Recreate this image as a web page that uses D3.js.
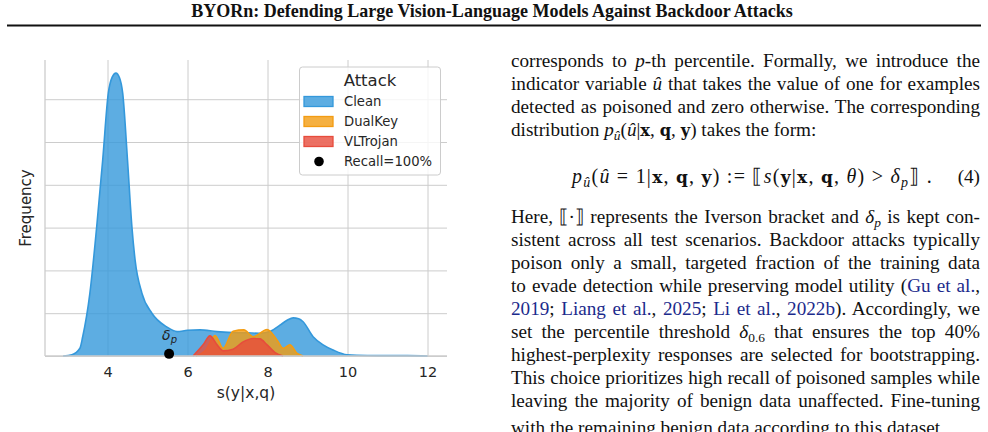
<!DOCTYPE html>
<html><head><meta charset="utf-8">
<script src="https://cdn.jsdelivr.net/npm/d3@7"></script>
<style>body{margin:0;background:#fff}svg{display:block}</style>
</head><body>
<svg id="c" width="988" height="432"></svg>
<script>
// ---------------- data ----------------
const cleanX = [2.89,3.11,3.31,3.38,3.56,3.73,3.88,4.02,4.12,4.21,4.30,4.38,4.50,4.61,4.69,4.86,5.11,5.48,5.74,6.00,6.31,6.74,7.14,7.50,7.81,8.06,8.31,8.50,8.64,8.78,8.89,9.14,9.39,9.64,9.99,10.5,11.0,11.5,12.0];
const cleanY = [0,0.003,0.018,0.045,0.147,0.302,0.458,0.614,0.652,0.661,0.650,0.614,0.458,0.302,0.224,0.147,0.100,0.068,0.057,0.060,0.061,0.057,0.055,0.054,0.053,0.057,0.072,0.084,0.089,0.087,0.080,0.045,0.026,0.014,0.003,0.001,0.0008,0.0008,0];
const dualX = [6.21,6.44,6.69,6.89,7.14,7.41,7.64,7.99,8.24,8.39,8.56,8.74,8.89];
const dualY = [0,0.012,0.048,0.018,0.058,0.061,0.045,0.062,0.037,0.018,0.026,0.006,0];
const trojX = [6.14,6.39,6.56,6.74,6.89,7.14,7.39,7.64,7.81,7.99,8.19,8.39];
const trojY = [0,0.026,0.047,0.026,0.012,0.016,0.033,0.041,0.040,0.026,0.008,0];
const seriesNames = ["Clean","DualKey","VLTrojan"];
const seriesColors = ["#3498db","#f39c12","#e74c3c"];
const recallX = [5.54];
const recallY = [0.005];
const xTicks = [4,6,8,10,12];
const yGrid = [0,0.1,0.2,0.3,0.4,0.5,0.6];

const svg = d3.select("#c");

// ---------------- page header ----------------
const title = svg.append("text").attr("x",492).attr("y",17).attr("text-anchor","middle")
  .attr("font-family","Liberation Serif, Times New Roman, serif").attr("font-weight","bold")
  .attr("font-size",16).attr("fill","#111")
  .text("BYORn: Defending Large Vision-Language Models Against Backdoor Attacks");
{ const w = title.node().getComputedTextLength(); title.attr("font-size", 16*602/w); }
svg.append("line").attr("x1",7).attr("x2",981).attr("y1",25.5).attr("y2",25.5)
  .attr("stroke","#111").attr("stroke-width",2.2);

// ---------------- chart ----------------
const L=45,R=447,T=60,B=356;
const x = d3.scaleLinear().domain([2.4375,12.4875]).range([L,R]);
const y = d3.scaleLinear().domain([0,0.6916]).range([B,T]);
const g = svg.append("g").attr("font-family","DejaVu Sans, sans-serif");

g.append("g").attr("transform",`translate(0,${B})`)
  .call(d3.axisBottom(x).tickValues(xTicks).tickSize(-(B-T)).tickFormat(""))
  .call(a=>a.select(".domain").remove())
  .call(a=>a.selectAll("line").attr("stroke","#cccccc").attr("stroke-width",1));
g.append("g").attr("transform",`translate(${L},0)`)
  .call(d3.axisLeft(y).tickValues(yGrid).tickSize(-(R-L)).tickFormat(""))
  .call(a=>a.select(".domain").remove())
  .call(a=>a.selectAll("line").attr("stroke","#cccccc").attr("stroke-width",1));

const series = [[cleanX,cleanY],[dualX,dualY],[trojX,trojY]];
const area = d3.area().x(d=>x(d[0])).y0(y(0)).y1(d=>y(d[1])).curve(d3.curveMonotoneX);
const line = d3.line().x(d=>x(d[0])).y(d=>y(d[1])).curve(d3.curveMonotoneX);
series.forEach(([xs,ys],i)=>{
  const pts = xs.map((v,j)=>[v,ys[j]]);
  g.append("path").datum(pts).attr("d",area).attr("fill",seriesColors[i]).attr("fill-opacity",0.8);
  g.append("path").datum(pts).attr("d",line).attr("fill","none").attr("stroke",seriesColors[i]).attr("stroke-width",1.6);
});

g.append("line").attr("x1",L).attr("x2",L).attr("y1",T).attr("y2",B).attr("stroke","#cccccc").attr("stroke-width",1.3);
g.append("line").attr("x1",L).attr("x2",R).attr("y1",B).attr("y2",B).attr("stroke","#cccccc").attr("stroke-width",1.3);

g.selectAll(".rp").data(recallX).join("circle").attr("cx",d=>x(d)).attr("cy",(d,i)=>y(recallY[i])).attr("r",5).attr("fill","#000");
const dl = g.append("text").attr("x",x(recallX[0])-7).attr("y",y(recallY[0])-14)
  .attr("font-size",14).attr("font-style","italic").attr("fill","#222");
dl.append("tspan").text("δ");
dl.append("tspan").attr("font-size",10).attr("dy",3).text("p");

g.append("g").attr("transform",`translate(0,${B})`)
  .call(d3.axisBottom(x).tickValues(xTicks).tickSize(0).tickPadding(11))
  .call(a=>a.select(".domain").remove())
  .call(a=>a.selectAll("text").attr("font-size",14.5).attr("fill","#262626").attr("font-family","DejaVu Sans, sans-serif"));
g.append("text").attr("x",(L+R)/2).attr("y",398).attr("text-anchor","middle").attr("font-size",15.5).attr("fill","#262626").text("s(y|x,q)");
g.append("text").attr("transform",`translate(31,${(T+B)/2}) rotate(-90)`).attr("text-anchor","middle").attr("font-size",15).attr("fill","#262626").text("Frequency");

const lg = g.append("g");
lg.append("rect").attr("x",299.5).attr("y",67).attr("width",141).attr("height",108).attr("rx",3)
  .attr("fill","#fff").attr("fill-opacity",0.8).attr("stroke","#cccccc").attr("stroke-width",1);
lg.append("text").attr("x",370).attr("y",86).attr("text-anchor","middle").attr("font-size",16.5).attr("fill","#262626").text("Attack");
seriesNames.forEach((n,i)=>{
  const cy = 101.5 + i*20;
  lg.append("rect").attr("x",304).attr("y",cy-5).attr("width",29).attr("height",10)
    .attr("fill",seriesColors[i]).attr("fill-opacity",0.8).attr("stroke",seriesColors[i]).attr("stroke-width",1.3);
  lg.append("text").attr("x",344).attr("y",cy).attr("dy","0.36em").attr("font-size",13.2).attr("fill","#262626").text(n);
});
lg.append("circle").attr("cx",319).attr("cy",161.5).attr("r",4.8).attr("fill","#000");
lg.append("text").attr("x",344).attr("y",161.5).attr("dy","0.36em").attr("font-size",13.2).attr("fill","#262626").text("Recall=100%");

// ---------------- right column text ----------------
const TX0=511, TX1=980;
const serif = "Liberation Serif, Times New Roman, serif";
const blue = "#1b2a8c";
const lines = [];
function para(segs, yb, justify){
  const t = svg.append("text").attr("x",TX0).attr("y",yb).attr("font-family",serif).attr("fill","#111").attr("xml:space","preserve");
  let shifted=0;
  segs.forEach(s=>{
    const [txt,st] = typeof s==="string"?[s,""]:s;
    const ts = t.append("tspan").text(txt);
    let dy=0;
    if(st.includes("i")) ts.attr("font-style","italic");
    if(st.includes("b")) ts.attr("font-weight","bold").attr("font-family","DejaVu Serif, serif").attr("font-size","0.85em");
    if(st.includes("l")) ts.attr("fill",blue);
    if(st.includes("s")){ ts.attr("font-size","0.7em"); dy = 4 - shifted; shifted=4; }
    else { dy = -shifted; shifted=0; }
    if(dy) ts.attr("dy",dy);
  });
  lines.push({t, justify});
  return t;
}
const LH = 23;
let yb = 67;
para(["corresponds to ",["p","i"],"-th percentile. Formally, we introduce the"], yb, true);
para(["indicator variable ",["û","i"]," that takes the value of one for examples"], yb+=LH, true);
para(["detected as poisoned and zero otherwise. The corresponding"], yb+=LH, true);
para(["distribution ",["p","i"],["û","is"],"(",["û","i"],"|",["x","b"],", ",["q","b"],", ",["y","b"],") takes the form:"], yb+=LH, false);

const eq = para([["p","i"],["û","is"],"(",["û","i"]," = 1|",["x","b"],", ",["q","b"],", ",["y","b"],") := ⟦",["s","i"],"(",["y","b"],"|",["x","b"],", ",["q","b"],", ",["θ","i"],") > ",["δ","i"],["p","is"],"⟧ ."], 183, false);
const eqNum = svg.append("text").attr("x",TX1).attr("y",183).attr("text-anchor","end").attr("font-family",serif).attr("fill","#111").text("(4)");

yb = 223;
para(["Here, ⟦·⟧ represents the Iverson bracket and ",["δ","i"],["p","is"]," is kept con-"], yb, true);
para(["sistent across all test scenarios. Backdoor attacks typically"], yb+=LH, true);
para(["poison only a small, targeted fraction of the training data"], yb+=LH, true);
para(["to evade detection while preserving model utility (",["Gu et al.","l"],","], yb+=LH, true);
para([["2019","l"],"; ",["Liang et al.","l"],", ",["2025","l"],"; ",["Li et al.","l"],", ",["2022b","l"],"). Accordingly, we"], yb+=LH, true);
para(["set the percentile threshold ",["δ","i"],["0.6","s"]," that ensures the top 40%"], yb+=LH, true);
para(["highest-perplexity responses are selected for bootstrapping."], yb+=LH, true);
para(["This choice prioritizes high recall of poisoned samples while"], yb+=LH, true);
para(["leaving the majority of benign data unaffected. Fine-tuning"], yb+=LH, true);
para(["with the remaining benign data according to this dataset"], yb+=LH+4, false);

// fit font size so the widest justified line just fills the column
let FS = 17;
lines.forEach(l=>l.t.attr("font-size",FS));
let minRatio = Infinity;
lines.filter(l=>l.justify).forEach(l=>{ minRatio = Math.min(minRatio,(TX1-TX0)/l.t.node().getComputedTextLength()); });
FS = FS*minRatio*0.995;
lines.forEach(l=>l.t.attr("font-size",FS));
eqNum.attr("font-size",FS);
lines.filter(l=>l.justify).forEach(l=>{
  const w = l.t.node().getComputedTextLength();
  const n = (l.t.text().match(/ /g)||[]).length;
  if(n) l.t.attr("word-spacing",(TX1-TX0-w)/n);
});
// equation: widen to the reference span (572 .. 933) like the math font does
{
  eq.attr("font-size",FS*1.04);
  const w = eq.node().getComputedTextLength();
  const nch = eq.text().length;
  eq.attr("letter-spacing",(361 - w)/nch).attr("x",572);
}
</script>
</body></html>
